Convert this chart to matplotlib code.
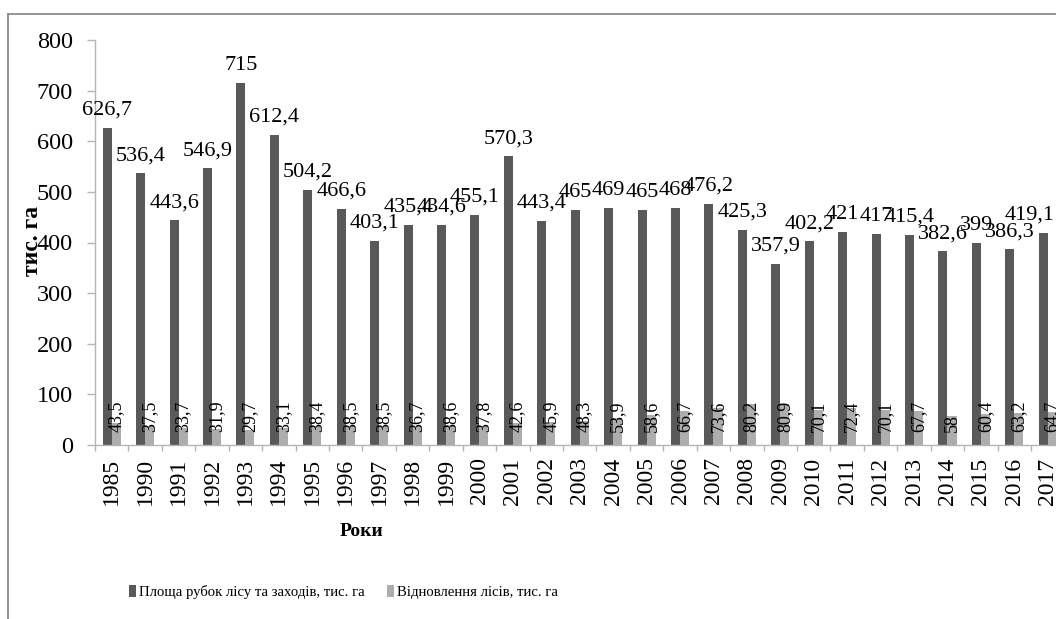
import matplotlib
matplotlib.use("Agg")
import matplotlib.pyplot as plt
from matplotlib.lines import Line2D
from matplotlib.patches import Patch
import numpy as np

plt.rcParams['font.family'] = ['Liberation Serif', 'DejaVu Serif']

years = ['1985', '1990', '1991', '1992', '1993', '1994', '1995', '1996', '1997',
         '1998', '1999', '2000', '2001', '2002', '2003', '2004', '2005', '2006',
         '2007', '2008', '2009', '2010', '2011', '2012', '2013', '2014', '2015',
         '2016', '2017']
felling = [626.7, 536.4, 443.6, 546.9, 715, 612.4, 504.2, 466.6, 403.1,
           435.4, 434.6, 455.1, 570.3, 443.4, 465, 469, 465, 468,
           476.2, 425.3, 357.9, 402.2, 421, 417, 415.4, 382.6, 399,
           386.3, 419.1]
restoration = [43.5, 37.5, 33.7, 31.9, 29.7, 33.1, 38.4, 38.5, 38.5,
               36.7, 38.6, 37.8, 42.6, 45.9, 48.3, 53.9, 58.6, 66.7,
               73.6, 80.2, 80.9, 70.1, 72.4, 70.1, 67.7, 58, 60.4,
               63.2, 64.7]
series_names = ['Площа рубок лісу та заходів, тис. га', 'Відновлення лісів, тис. га']
y_label = 'тис. га'
x_label = 'Роки'

DARK = '#595959'
LIGHT = '#adadad'
AXC = '#b5b5b5'

W, H = 1056, 619
fig = plt.figure(figsize=(W / 100, H / 100), dpi=100)
ax = fig.add_axes([95 / W, 174 / H, 969.5 / W, 405 / H])

x = np.arange(len(years))
bw = 0.27
ax.bar(x - bw / 2, felling, width=bw, color=DARK, zorder=2)
ax.bar(x + bw / 2, restoration, width=bw, color=LIGHT, zorder=2)

def fmt(v):
    return ('%g' % v).replace('.', ',')

top_labels = []
for xi, v in zip(x, felling):
    t = ax.annotate(fmt(v), (xi - bw / 2, v), xytext=(0, 13), textcoords='offset pixels',
                    ha='center', va='baseline', fontsize=16, color='black', zorder=3)
    top_labels.append(t)
for xi, v in zip(x, restoration):
    ax.text(xi + bw / 2, 26, fmt(v), rotation=90, ha='center', va='bottom',
            fontsize=13, color='black', zorder=3)

ax.set_xlim(-0.5, len(years) - 0.5)
ax.set_ylim(0, 800)
ax.set_yticks(np.arange(0, 801, 100))
ax.set_xticks(x)
ax.set_xticklabels(years, rotation=90)
ax.set_xticks(np.arange(-0.5, len(years), 1), minor=True)

for s in ['top', 'right']:
    ax.spines[s].set_visible(False)
for s in ['left', 'bottom']:
    ax.spines[s].set_color(AXC)
    ax.spines[s].set_linewidth(1.0)

ax.tick_params(axis='y', length=6, width=1.0, color=AXC, pad=10, labelsize=17.5)
ax.tick_params(axis='x', which='major', length=0, pad=9, labelsize=17)
ax.tick_params(axis='x', which='minor', length=4, width=1.0, color=AXC)

fig.text(33 / W, 1 - 241 / H, y_label, rotation=90, ha='center', va='center',
         fontsize=17, fontweight='bold')
fig.text(362 / W, 1 - 532 / H, x_label, ha='center', va='center',
         fontsize=14, fontweight='bold')

# outer chart frame (partially cropped)
fig.add_artist(Line2D([8 / W, 8 / W], [0, 1 - 14 / H], transform=fig.transFigure,
                      color='#8a8a8a', lw=1.3))
fig.add_artist(Line2D([8 / W, 1], [1 - 14 / H, 1 - 14 / H], transform=fig.transFigure,
                      color='#8a8a8a', lw=1.3))

h1 = Patch(facecolor=DARK)
h2 = Patch(facecolor=LIGHT)
common = dict(loc='center left', frameon=False, borderpad=0, borderaxespad=0,
              handlelength=0.5, handleheight=0.9, handletextpad=0.2, fontsize=10.6)
fig.legend([h1], [series_names[0]], bbox_to_anchor=(128.5 / W, 1 - 592 / H), **common)
fig.legend([h2], [series_names[1]], bbox_to_anchor=(386.5 / W, 1 - 592 / H), **common)

# keep top labels inside the picture, as the chart tool does
fig.canvas.draw()
renderer = fig.canvas.get_renderer()
for t in top_labels:
    bb = t.get_window_extent(renderer)
    if bb.x1 > W - 1:
        shift = bb.x1 - (W - 1)
        ox, oy = t.xyann
        t.xyann = (ox - shift, oy)

fig.savefig('out.png', dpi=100)
